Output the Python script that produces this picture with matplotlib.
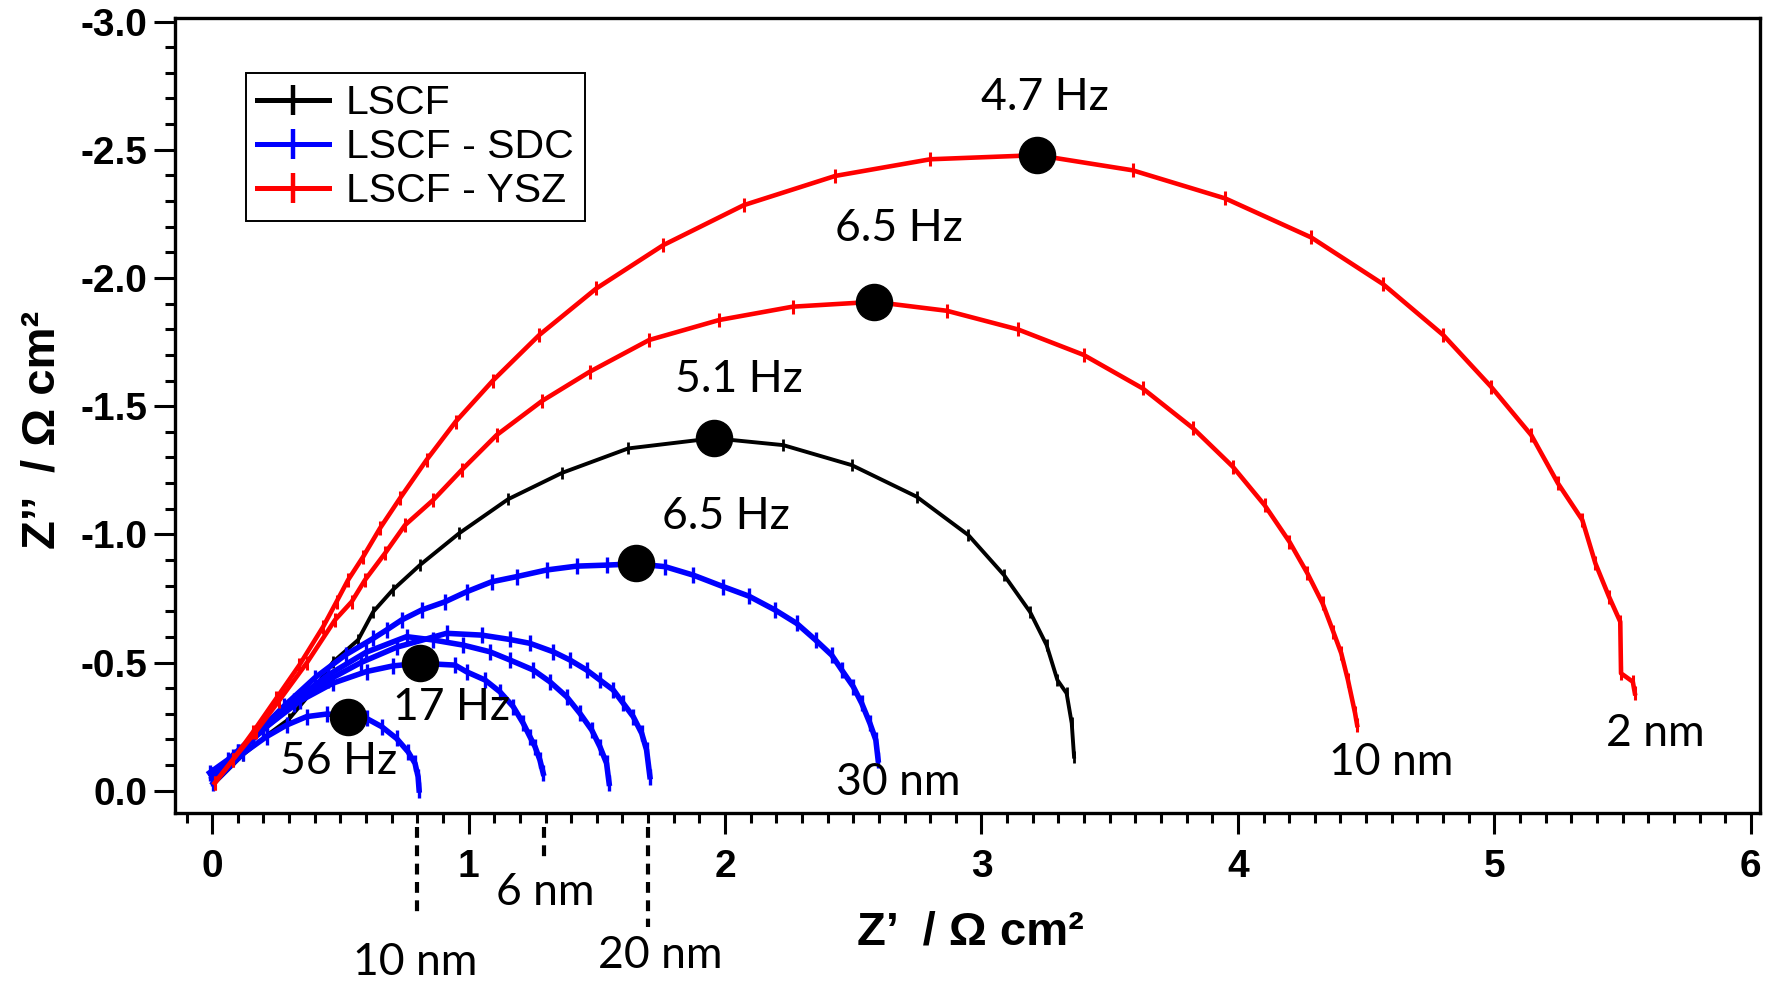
import matplotlib
matplotlib.use("Agg")
import matplotlib.pyplot as plt
from matplotlib.lines import Line2D
from matplotlib.ticker import MultipleLocator

plt.rcParams["axes.unicode_minus"] = False

# 図から読み取ったインピーダンス (Z', Z'') [Ω cm²]
# LSCF
lscf_x = [0.01, 0.12, 0.212, 0.30, 0.40, 0.472, 0.569, 0.628, 0.704, 0.810, 0.963, 1.154, 1.365,
          1.622, 1.956, 2.227, 2.494, 2.747, 2.949, 3.088, 3.189, 3.254, 3.296, 3.332, 3.352, 3.361]
lscf_y = [-0.03, -0.14, -0.215, -0.28, -0.40, -0.503, -0.588, -0.698, -0.783, -0.880, -1.004, -1.137,
          -1.240, -1.335, -1.375, -1.348, -1.270, -1.147, -0.997, -0.841, -0.698, -0.568, -0.432, -0.380,
          -0.263, -0.133]

# LSCF - SDC (30 nm, 20 nm, その他, 6 nm, 10 nm)
sdc_30nm_x = [-0.01, 0.06, 0.16, 0.28, 0.40, 0.52, 0.628, 0.680, 0.739, 0.817, 0.908, 0.992, 1.090, 1.187,
              1.304, 1.421, 1.538, 1.652, 1.766, 1.876, 1.993, 2.093, 2.195, 2.279, 2.353, 2.416, 2.455,
              2.500, 2.533, 2.565, 2.588, 2.597]
sdc_30nm_y = [-0.07, -0.12, -0.21, -0.33, -0.44, -0.53, -0.594, -0.627, -0.666, -0.705, -0.737, -0.776, -0.815,
              -0.835, -0.861, -0.876, -0.880, -0.885, -0.874, -0.841, -0.796, -0.759, -0.705, -0.653, -0.588,
              -0.529, -0.471, -0.406, -0.341, -0.263, -0.198, -0.120]

sdc_20nm_x = [0.0, 0.10, 0.20, 0.32, 0.45, 0.58, 0.72, 0.914, 1.051, 1.161, 1.239, 1.330, 1.395, 1.460,
              1.512, 1.564, 1.603, 1.642, 1.675, 1.694, 1.707]
sdc_20nm_y = [-0.06, -0.15, -0.24, -0.34, -0.43, -0.50, -0.56, -0.614, -0.607, -0.590, -0.575, -0.542, -0.510,
              -0.471, -0.432, -0.393, -0.341, -0.289, -0.224, -0.159, -0.055]

sdc_mid_x = [0.0, 0.10, 0.20, 0.32, 0.45, 0.60, 0.758, 0.862, 0.979, 1.083, 1.161, 1.252, 1.317, 1.382,
             1.434, 1.480, 1.512, 1.538, 1.548]
sdc_mid_y = [-0.06, -0.15, -0.245, -0.35, -0.45, -0.54, -0.601, -0.588, -0.568, -0.542, -0.510, -0.471, -0.425,
             -0.367, -0.302, -0.237, -0.172, -0.107, -0.029]

sdc_6nm_x = [0.0, 0.082, 0.212, 0.342, 0.472, 0.602, 0.706, 0.810, 0.947, 0.992, 1.064, 1.122, 1.174, 1.213,
             1.239, 1.259, 1.278, 1.291]
sdc_6nm_y = [-0.05, -0.13, -0.25, -0.35, -0.42, -0.465, -0.487, -0.497, -0.490, -0.464, -0.432, -0.386, -0.328,
             -0.263, -0.211, -0.172, -0.120, -0.068]

sdc_10nm_x = [0.004, 0.121, 0.212, 0.290, 0.368, 0.446, 0.528, 0.602, 0.661, 0.719, 0.764, 0.791, 0.803, 0.807]
sdc_10nm_y = [-0.029, -0.146, -0.211, -0.256, -0.289, -0.299, -0.295, -0.282, -0.250, -0.204, -0.152, -0.107,
              -0.055, -0.003]

# LSCF - YSZ (2 nm, 10 nm)
ysz_2nm_x = [0.01, 0.08, 0.16, 0.25, 0.34, 0.433, 0.485, 0.530, 0.589, 0.654, 0.732, 0.836, 0.950, 1.095,
             1.275, 1.498, 1.759, 2.073, 2.430, 2.801, 3.218, 3.589, 3.951, 4.286, 4.566, 4.801, 4.987,
             5.144, 5.248, 5.343, 5.394, 5.447, 5.491, 5.494, 5.540, 5.548]
ysz_2nm_y = [-0.03, -0.12, -0.23, -0.36, -0.49, -0.640, -0.737, -0.822, -0.913, -1.023, -1.140, -1.290, -1.440,
             -1.600, -1.777, -1.959, -2.128, -2.284, -2.398, -2.463, -2.479, -2.420, -2.310, -2.158, -1.976,
             -1.777, -1.576, -1.387, -1.199, -1.056, -0.887, -0.757, -0.659, -0.458, -0.425, -0.380]

ysz_10nm_x = [0.01, 0.08, 0.17, 0.26, 0.37, 0.479, 0.544, 0.596, 0.674, 0.752, 0.862, 0.973, 1.109, 1.286,
              1.472, 1.704, 1.977, 2.264, 2.581, 2.865, 3.143, 3.398, 3.629, 3.826, 3.980, 4.104, 4.201,
              4.271, 4.330, 4.372, 4.403, 4.429, 4.457, 4.465]
ysz_10nm_y = [-0.03, -0.12, -0.23, -0.35, -0.50, -0.666, -0.737, -0.822, -0.926, -1.036, -1.134, -1.251, -1.387,
              -1.520, -1.634, -1.758, -1.836, -1.888, -1.907, -1.872, -1.799, -1.700, -1.569, -1.413, -1.264,
              -1.114, -0.971, -0.848, -0.731, -0.620, -0.536, -0.432, -0.302, -0.256]

# ピーク周波数の点
peak_x = [3.218, 2.581, 1.956, 1.652, 0.810, 0.528]
peak_y = [-2.479, -1.907, -1.375, -0.890, -0.497, -0.289]
peak_labels = ["4.7 Hz", "6.5 Hz", "5.1 Hz", "6.5 Hz", "17 Hz", "56 Hz"]

# 膜厚ラベル (グラフ内)
thick_labels = ["30 nm", "10 nm", "2 nm"]
# 軸の下の破線 (SDC の円弧の終点)
cut_x = [0.80, 1.295, 1.70]
cut_labels = ["10 nm", "6 nm", "20 nm"]

y_ticks = [-3.0, -2.5, -2.0, -1.5, -1.0, -0.5, 0.0]
y_tick_labels = ["-3.0", "-2.5", "-2.0", "-1.5", "-1.0", "-0.5", "0.0"]
x_ticks = [0, 1, 2, 3, 4, 5, 6]
x_tick_labels = ["0", "1", "2", "3", "4", "5", "6"]

BLUE = "#0000ff"
RED = "#ff0000"

fig = plt.figure(figsize=(17.71, 9.83), dpi=100)
ax = fig.add_axes([0.0988, 0.1729, 0.8950, 0.8088])

# 描画順: 黒 -> 青 -> 赤
ax.plot(lscf_x, lscf_y, color="black", lw=2.8, marker="|", markersize=9, markeredgewidth=2)
for xs, ys in [(sdc_30nm_x, sdc_30nm_y), (sdc_20nm_x, sdc_20nm_y), (sdc_mid_x, sdc_mid_y),
               (sdc_6nm_x, sdc_6nm_y), (sdc_10nm_x, sdc_10nm_y)]:
    ax.plot(xs, ys, color=BLUE, lw=4.0, marker="|", markersize=11, markeredgewidth=2.4)
for xs, ys in [(ysz_2nm_x, ysz_2nm_y), (ysz_10nm_x, ysz_10nm_y)]:
    ax.plot(xs, ys, color=RED, lw=3.3, marker="|", markersize=10, markeredgewidth=2.2)

ax.plot(peak_x, peak_y, "o", color="black", markersize=26, zorder=5)

ann_font = dict(family=["Lato", "DejaVu Sans"], fontsize=32, ha="center", va="center")
label_pos = [(3.247, -2.705), (2.678, -2.194), (2.053, -1.604), (2.005, -1.071), (0.934, -0.326), (0.494, -0.115)]
for (tx, ty), txt in zip(label_pos, peak_labels):
    ax.text(tx, ty, txt, **ann_font)

thick_pos = [(2.674, -0.031), (4.599, -0.110), (5.626, -0.225)]
for (tx, ty), txt in zip(thick_pos, thick_labels):
    ax.text(tx, ty, txt, **ann_font)

# 軸の外の破線とラベル
cut_bottom = [0.485, 0.264, 0.530]
cut_text_y = [0.669, 0.396, 0.643]
cut_text_x = [0.793, 1.300, 1.749]
for cx, cb, tx, ty, txt in zip(cut_x, cut_bottom, cut_text_x, cut_text_y, cut_labels):
    ax.plot([cx, cx], [0.14, cb], color="black", lw=3.0, ls=(0, (2.6, 1.8)), clip_on=False)
    ax.text(tx, ty, txt, clip_on=False, **ann_font)

ax.set_xlim(-0.145, 6.036)
ax.set_ylim(0.087, -3.014)

ax.set_xticks(x_ticks)
ax.set_xticklabels(x_tick_labels)
ax.set_yticks(y_ticks)
ax.set_yticklabels(y_tick_labels)
ax.xaxis.set_minor_locator(MultipleLocator(0.1))
ax.yaxis.set_minor_locator(MultipleLocator(0.1))
ax.tick_params(which="major", direction="out", length=15, width=2.2)
ax.tick_params(which="minor", direction="out", length=7, width=2.2)
ax.tick_params(axis="x", which="major", pad=11)
ax.tick_params(axis="y", which="major", pad=5)
for lab in ax.get_xticklabels() + ax.get_yticklabels():
    lab.set_fontfamily(["Liberation Sans", "DejaVu Sans"])
    lab.set_fontweight("bold")
    lab.set_fontsize(28)
for sp in ax.spines.values():
    sp.set_linewidth(2.4)

label_font = dict(family=["Liberation Sans", "DejaVu Sans"], fontweight="bold", fontsize=34)
fig.text(0.548, 0.051, "Z’  / Ω cm²", ha="center", va="center", **label_font)
fig.text(0.024, 0.5626, "Z’’  / Ω cm²", ha="center", va="center", rotation=90, **label_font)

handles = [
    Line2D([], [], color="black", lw=3.6, marker="|", markersize=22, markeredgewidth=3.2),
    Line2D([], [], color=BLUE, lw=3.6, marker="|", markersize=22, markeredgewidth=3.2),
    Line2D([], [], color=RED, lw=3.6, marker="|", markersize=22, markeredgewidth=3.2),
]
leg = ax.legend(handles, ["LSCF", "LSCF - SDC", "LSCF - YSZ"], loc="upper left",
                bbox_to_anchor=(0.0448, 0.9308), borderaxespad=0, fancybox=False,
                framealpha=1, edgecolor="black", handlelength=1.75, handletextpad=0.4,
                labelspacing=0.14, borderpad=0.28,
                prop={"family": ["Liberation Sans", "DejaVu Sans"], "size": 29.5})
leg.get_frame().set_linewidth(1.4)

fig.savefig("out.png", dpi=100)
